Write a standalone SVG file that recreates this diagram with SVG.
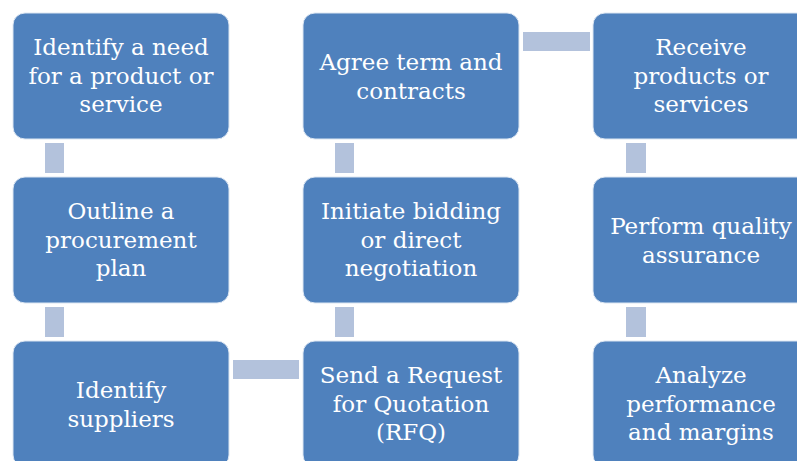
<svg xmlns="http://www.w3.org/2000/svg" width="797" height="461" viewBox="0 0 797 461">
<style>
.box{fill:#4F81BD;stroke:#DCE6F2;stroke-width:1}
.con{fill:#B3C2DC}
text{font-family:"DejaVu Serif","Liberation Serif",serif;font-size:23px;fill:#FFFFFF;text-anchor:middle}
</style>
<rect width="797" height="461" fill="#FFFFFF"/>
<g id="connectors">
<rect class="con" x="45" y="143" width="19" height="30"/>
<rect class="con" x="45" y="307" width="19" height="30"/>
<rect class="con" x="233" y="360" width="66" height="19"/>
<rect class="con" x="335" y="307" width="19" height="30"/>
<rect class="con" x="335" y="143" width="19" height="30"/>
<rect class="con" x="523" y="32" width="67" height="19"/>
<rect class="con" x="626" y="143" width="20" height="30"/>
<rect class="con" x="626" y="307" width="20" height="30"/>
</g>
<g id="n1"><rect class="box" x="13" y="13" width="216" height="126" rx="12"/>
<text x="121" y="55">Identify a need</text><text x="121" y="84">for a product or</text><text x="121" y="112">service</text></g>
<g id="n2"><rect class="box" x="13" y="177" width="216" height="126" rx="12"/>
<text x="121" y="219">Outline a</text><text x="121" y="248">procurement</text><text x="121" y="276">plan</text></g>
<g id="n3"><rect class="box" x="13" y="341" width="216" height="126" rx="12"/>
<text x="121" y="398">Identify</text><text x="121" y="427">suppliers</text></g>
<g id="n4"><rect class="box" x="303" y="341" width="216" height="126" rx="12"/>
<text x="411" y="383">Send a Request</text><text x="411" y="412">for Quotation</text><text x="411" y="440">(RFQ)</text></g>
<g id="n5"><rect class="box" x="303" y="177" width="216" height="126" rx="12"/>
<text x="411" y="219">Initiate bidding</text><text x="411" y="248">or direct</text><text x="411" y="276">negotiation</text></g>
<g id="n6"><rect class="box" x="303" y="13" width="216" height="126" rx="12"/>
<text x="411" y="70">Agree term and</text><text x="411" y="99">contracts</text></g>
<g id="n7"><rect class="box" x="593" y="13" width="216" height="126" rx="12"/>
<text x="701" y="55">Receive</text><text x="701" y="84">products or</text><text x="701" y="112">services</text></g>
<g id="n8"><rect class="box" x="593" y="177" width="216" height="126" rx="12"/>
<text x="701" y="234">Perform quality</text><text x="701" y="263">assurance</text></g>
<g id="n9"><rect class="box" x="593" y="341" width="216" height="126" rx="12"/>
<text x="701" y="383">Analyze</text><text x="701" y="412">performance</text><text x="701" y="440">and margins</text></g>
</svg>
